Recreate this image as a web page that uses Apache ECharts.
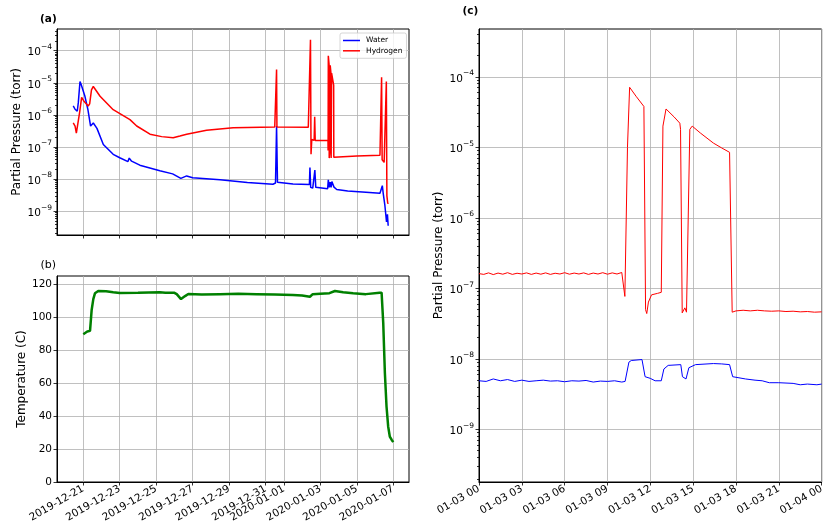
<!DOCTYPE html>
<html><head><meta charset="utf-8">
<script src="https://cdn.jsdelivr.net/npm/echarts@6/dist/echarts.min.js"></script>
<style>html,body{margin:0;padding:0;background:#fff}#chart{width:827px;height:529px}</style>
</head><body><div id="chart"></div>
<script>
// ---------------- DATA ----------------
// Panel (a): partial pressures over the whole bake-out (torr)
const waterTimesA = ['2019-12-20 10:48','2019-12-20 13:12','2019-12-20 16:05','2019-12-20 17:31','2019-12-20 19:41','2019-12-20 21:07','2019-12-21 02:10','2019-12-21 06:00','2019-12-21 09:36','2019-12-21 13:12','2019-12-21 18:00','2019-12-22 02:24','2019-12-22 15:22','2019-12-23 00:00','2019-12-23 10:48','2019-12-23 12:29','2019-12-23 15:36','2019-12-24 02:24','2019-12-25 04:48','2019-12-25 21:36','2019-12-26 08:24','2019-12-26 16:05','2019-12-27 00:00','2019-12-28 12:00','2019-12-30 00:00','2019-12-31 09:36','2019-12-31 13:00','2019-12-31 14:24','2019-12-31 15:36','2020-01-01 12:00','2020-01-02 09:36','2020-01-02 10:19','2020-01-02 11:17','2020-01-02 14:00','2020-01-02 16:48','2020-01-02 18:00','2020-01-03 09:36','2020-01-03 10:30','2020-01-03 11:30','2020-01-03 11:45','2020-01-03 13:00','2020-01-03 14:10','2020-01-03 14:30','2020-01-03 15:10','2020-01-03 17:33','2020-01-03 18:00','2020-01-03 21:36','2020-01-04 12:00','2020-01-05 12:00','2020-01-06 06:29','2020-01-06 09:36','2020-01-06 10:48','2020-01-06 12:58','2020-01-06 15:07','2020-01-06 16:19','2020-01-06 17:17'];
const waterValuesA = [1.9e-6,1.5e-6,1.3e-6,2.5e-6,1.1e-5,9e-6,3.8e-6,1.5e-6,4.5e-7,5.6e-7,3.8e-7,1.2e-7,5.9e-8,4.6e-8,3.5e-8,4.5e-8,3.6e-8,2.7e-8,1.8e-8,1.45e-8,1.05e-8,1.25e-8,1.1e-8,9.5e-9,7.8e-9,6.9e-9,7.5e-9,4.5e-7,8e-9,7e-9,6.8e-9,2.3e-8,5.5e-9,5.2e-9,1.9e-8,5.5e-9,5e-9,9.5e-9,9.8e-9,5.5e-9,8e-9,5.5e-9,5.3e-9,8.3e-9,8.3e-9,5.6e-9,4.7e-9,4.2e-9,3.9e-9,3.6e-9,6.2e-9,3.5e-9,1.5e-9,4.6e-10,8e-10,3.5e-10];

const hydrogenTimesA = ['2019-12-20 10:48','2019-12-20 13:12','2019-12-20 14:53','2019-12-20 16:05','2019-12-20 19:12','2019-12-20 21:50','2019-12-21 01:12','2019-12-21 06:29','2019-12-21 08:24','2019-12-21 10:48','2019-12-21 13:12','2019-12-21 22:05','2019-12-22 15:22','2019-12-23 13:26','2019-12-23 22:19','2019-12-24 15:50','2019-12-25 07:12','2019-12-25 22:19','2019-12-26 07:12','2019-12-26 16:05','2019-12-27 18:14','2019-12-29 05:17','2019-12-31 12:00','2019-12-31 13:55','2019-12-31 14:24','2019-12-31 14:53','2020-01-02 08:10','2020-01-02 10:34','2020-01-02 11:02','2020-01-02 11:46','2020-01-02 12:43','2020-01-02 15:50','2020-01-02 16:34','2020-01-02 17:17','2020-01-03 10:05','2020-01-03 10:13','2020-01-03 10:30','2020-01-03 11:30','2020-01-03 11:42','2020-01-03 12:46','2020-01-03 13:00','2020-01-03 14:08','2020-01-03 14:15','2020-01-03 14:40','2020-01-03 14:50','2020-01-03 17:33','2020-01-03 17:44','2020-01-05 00:00','2020-01-06 06:29','2020-01-06 07:55','2020-01-06 08:38','2020-01-06 09:22','2020-01-06 12:00','2020-01-06 13:55','2020-01-06 14:53','2020-01-06 15:36','2020-01-06 16:48','2020-01-06 17:17'];
const hydrogenValuesA = [5.6e-7,4.5e-7,2.7e-7,2.5e-7,1.2e-6,3.5e-6,2.6e-6,1.9e-6,2.2e-6,6e-6,7.7e-6,3.8e-6,1.45e-6,7.1e-7,4.5e-7,2.5e-7,2.1e-7,1.95e-7,2.2e-7,2.5e-7,3.3e-7,4e-7,4.2e-7,4.2e-7,2.6e-5,4.2e-7,4.1e-7,4.1e-7,2.2e-4,5.9e-8,1.7e-7,1.6e-7,8.7e-7,1.6e-7,1.6e-7,7.7e-8,7e-5,3.8e-5,4.5e-8,8.8e-8,3.5e-5,1.8e-5,4.5e-8,5e-8,2e-5,8.5e-6,4.8e-8,5.2e-8,5.5e-8,5.5e-8,1.5e-5,4e-8,3.3e-8,3e-8,1.1e-5,3e-9,1.7e-9,1.8e-9];

// Panel (b): temperature (C)
const tempTimes = ['2019-12-21 00:00','2019-12-21 02:00','2019-12-21 05:17','2019-12-21 08:53','2019-12-21 10:00','2019-12-21 11:02','2019-12-21 13:12','2019-12-21 15:22','2019-12-21 19:41','2019-12-22 06:00','2019-12-22 15:22','2019-12-23 00:00','2019-12-24 00:00','2019-12-25 04:48','2019-12-25 12:00','2019-12-26 00:00','2019-12-26 03:00','2019-12-26 08:38','2019-12-26 14:00','2019-12-26 18:14','2019-12-27 12:00','2019-12-28 12:00','2019-12-29 12:00','2019-12-30 12:00','2019-12-31 12:00','2020-01-01 12:00','2020-01-02 00:00','2020-01-02 10:19','2020-01-02 14:00','2020-01-03 00:00','2020-01-03 12:00','2020-01-03 19:12','2020-01-04 06:00','2020-01-04 19:12','2020-01-05 12:00','2020-01-06 06:00','2020-01-06 08:38','2020-01-06 10:48','2020-01-06 12:58','2020-01-06 15:07','2020-01-06 17:17','2020-01-06 19:26','2020-01-06 22:00','2020-01-07 00:00'];
const tempValues = [89.7,90.5,91.3,91.7,92,104.4,111,114.5,115.9,115.8,115.2,114.7,114.8,115.1,114.9,114.8,114,111,112.8,114.1,113.8,114,114.2,114,113.8,113.5,113.2,112.4,114,114.3,114.6,115.9,115.1,114.5,114,114.8,114.9,96.4,66,45.8,33.7,27.6,25.5,24.2];

// Panel (c): zoom on 2020-01-03 (clock times of that day; 24:00 = next midnight)
const waterTimesC = ['00:00','00:30','01:00','01:30','02:00','02:30','03:00','03:30','04:00','04:30','05:00','05:30','06:00','06:30','07:00','07:30','08:00','08:30','09:00','09:30','10:00','10:14','10:30','10:40','11:25','11:38','12:00','12:20','12:46','12:57','13:15','14:08','14:15','14:30','14:42','15:10','16:25','17:00','17:33','17:46','18:40','19:20','19:50','20:20','21:00','22:00','22:30','23:00','23:40','24:00'];
const waterValuesC = [4.9e-9,4.8e-9,5.2e-9,4.9e-9,5.1e-9,4.8e-9,5.0e-9,4.8e-9,4.9e-9,5.0e-9,4.85e-9,4.9e-9,4.75e-9,4.9e-9,4.85e-9,4.95e-9,4.7e-9,4.85e-9,4.8e-9,4.9e-9,4.7e-9,4.8e-9,9e-9,9.5e-9,9.8e-9,5.6e-9,5.3e-9,4.9e-9,4.9e-9,7.2e-9,8.1e-9,8.3e-9,5.6e-9,5.2e-9,7.5e-9,8.3e-9,8.6e-9,8.5e-9,8.3e-9,5.6e-9,5.2e-9,5.0e-9,4.9e-9,4.6e-9,4.6e-9,4.5e-9,4.3e-9,4.4e-9,4.3e-9,4.4e-9];

const hydrogenTimesC = ['00:00','00:20','00:40','01:00','01:20','01:40','02:00','02:20','02:40','03:00','03:20','03:40','04:00','04:20','04:40','05:00','05:20','05:40','06:00','06:20','06:40','07:00','07:20','07:40','08:00','08:20','08:40','09:00','09:20','09:40','10:00','10:08','10:13','10:16','10:24','10:33','11:00','11:33','11:40','11:45','11:52','12:05','12:30','12:46','12:53','13:06','13:40','14:04','14:07','14:14','14:18','14:25','14:32','14:46','14:56','15:30','16:25','17:00','17:33','17:44','17:50','18:00','18:30','19:00','19:30','20:00','20:30','21:00','21:30','22:00','22:30','23:00','23:30','24:00'];
const hydrogenValuesC = [1.62e-7,1.58e-7,1.66e-7,1.57e-7,1.65e-7,1.59e-7,1.67e-7,1.58e-7,1.64e-7,1.6e-7,1.66e-7,1.58e-7,1.65e-7,1.59e-7,1.66e-7,1.58e-7,1.64e-7,1.6e-7,1.67e-7,1.59e-7,1.65e-7,1.6e-7,1.66e-7,1.58e-7,1.65e-7,1.6e-7,1.67e-7,1.59e-7,1.66e-7,1.6e-7,1.68e-7,1.62e-7,7.7e-8,8e-8,1e-5,7.1e-5,5.3e-5,3.8e-5,5e-8,4.4e-8,6.4e-8,8.1e-8,8.5e-8,8.8e-8,2e-5,3.5e-5,2.7e-5,2.2e-5,1.8e-5,4.5e-8,4.3e-8,5.3e-8,4.6e-8,1.8e-5,2e-5,1.6e-5,1.15e-5,9.8e-6,8.5e-6,4.6e-8,4.5e-8,4.8e-8,4.9e-8,4.8e-8,4.9e-8,4.8e-8,4.75e-8,4.8e-8,4.7e-8,4.75e-8,4.65e-8,4.7e-8,4.6e-8,4.65e-8];

// Ticks
const dateTicksAB = ['2019-12-21','2019-12-23','2019-12-25','2019-12-27','2019-12-29','2019-12-31','2020-01-01','2020-01-03','2020-01-05','2020-01-07'];
const hourTicksC = ['00:00','03:00','06:00','09:00','12:00','15:00','18:00','21:00','24:00'];
const logTickExps = [-9,-8,-7,-6,-5,-4];
const tempTicks = [0,20,40,60,80,100,120];

// ---------------- BUILD ----------------
const FONT = 'DejaVu Sans';
function toMs(s) {
  const [d, t] = s.split(' ');
  const [y, m, dd] = d.split('-').map(Number);
  let h = 0, mi = 0;
  if (t) { [h, mi] = t.split(':').map(Number); }
  return new Date(y, m - 1, dd, h, mi).getTime();
}
const dayC = toMs('2020-01-03');
function hmToMs(s) { const [h, m] = s.split(':').map(Number); return dayC + (h * 60 + m) * 60000; }
function pad(n) { return n < 10 ? '0' + n : '' + n; }

const logMin = -9.745, logMax = -3.322;
const minorTicks = [];
for (let e = -10; e <= -4; e++) for (let k = 2; k <= 9; k++) {
  const v = Math.log10(k) + e; if (v > logMin && v < logMax) minorTicks.push(v);
}
const logPairs = (ts, vs, conv) => ts.map((t, i) => [conv(t), Math.log10(vs[i])]);

const axisLineStyle = { show: true, onZero: false, lineStyle: { color: '#000', width: 1 } };
const gridLine = { show: true, lineStyle: { color: '#b0b0b0', width: 0.8 } };
const tickStyle = (vals, len) => ({ show: true, inside: false, length: len, customValues: vals, lineStyle: { color: '#000', width: 0.8 } });
const logLabel = {
  show: true, margin: 5, customValues: logTickExps,
  formatter: v => '{b|10}{s|\u2212' + Math.abs(Math.round(v)) + '}',
  rich: {
    b: { fontFamily: FONT, fontSize: 10.5, color: '#000', lineHeight: 15, verticalAlign: 'bottom' },
    s: { fontFamily: FONT, fontSize: 7.5, color: '#000', lineHeight: 9, verticalAlign: 'top' }
  }
};
const dateLabel = v => { const d = new Date(v); return d.getFullYear() + '-' + pad(d.getMonth() + 1) + '-' + pad(d.getDate()); };
const hourLabel = v => { const d = new Date(v); return pad(d.getMonth() + 1) + '-' + pad(d.getDate()) + ' ' + pad(d.getHours()); };

const abTicks = dateTicksAB.map(toMs);
const cTicks = hourTicksC.map(hmToMs);
const xMinAB = toMs('2019-12-19 13:25'), xMaxAB = toMs('2020-01-07 20:42');

const minorAxis = (grid) => ({ type: 'value', gridIndex: grid, position: 'left', min: logMin, max: logMax,
  axisLine: { show: false, onZero: false }, axisTick: tickStyle(minorTicks, 2), axisLabel: { show: false }, splitLine: { show: false } });

const titleStyle = (bold, size) => ({ fontFamily: FONT, fontSize: size, fontWeight: bold ? 'bold' : 'normal', color: '#000' });
const option = {
  animation: false,
  backgroundColor: '#fff',
  textStyle: { fontFamily: FONT },
  title: [
    { text: '(a)', left: 40, top: 14, padding: 0, textStyle: titleStyle(true, 10.5) },
    { text: '(b)', left: 40.5, top: 259.5, padding: 0, textStyle: titleStyle(false, 11) },
    { text: '(c)', left: 462.5, top: 6, padding: 0, textStyle: titleStyle(true, 10.5) }
  ],
  legend: {
    data: ['Water', 'Hydrogen'], orient: 'vertical', left: 340, top: 33, icon: 'rect',
    padding: [3, 4, 3, 3], itemGap: 1.3, itemWidth: 17, itemHeight: 1.5,
    borderColor: '#cccccc', borderWidth: 0.8, borderRadius: 2, backgroundColor: 'rgba(255,255,255,0.8)',
    textStyle: { fontFamily: FONT, fontSize: 7.5, color: '#000', lineHeight: 9, padding: [0, 0, 0, 1] }
  },
  grid: [
    { left: 57, top: 29, width: 352, height: 206, show: true, borderColor: '#000', borderWidth: 1, backgroundColor: '#fff' },
    { left: 57, top: 276, width: 352, height: 206, show: true, borderColor: '#000', borderWidth: 1, backgroundColor: '#fff' },
    { left: 479, top: 29, right: -4, height: 453, show: true, borderColor: '#000', borderWidth: 1, backgroundColor: '#fff' }
  ],
  xAxis: [
    { type: 'value', gridIndex: 0, min: xMinAB, max: xMaxAB, axisLine: axisLineStyle, axisTick: tickStyle(abTicks, 3.5), axisLabel: { show: false, customValues: abTicks }, splitLine: gridLine },
    { type: 'value', gridIndex: 1, min: xMinAB, max: xMaxAB, axisLine: axisLineStyle, axisTick: tickStyle(abTicks, 3.5),
      axisLabel: { show: true, customValues: abTicks, rotate: 30, margin: 6, formatter: dateLabel, fontFamily: FONT, fontSize: 10.5, color: '#000' }, splitLine: gridLine },
    { type: 'value', gridIndex: 2, min: cTicks[0], max: cTicks[cTicks.length - 1], axisLine: axisLineStyle, axisTick: tickStyle(cTicks, 3.5),
      axisLabel: { show: true, customValues: cTicks, rotate: 30, margin: 6, formatter: hourLabel, fontFamily: FONT, fontSize: 10.5, color: '#000' }, splitLine: gridLine }
  ],
  yAxis: [
    { type: 'value', gridIndex: 0, position: 'left', min: logMin, max: logMax, axisLine: axisLineStyle, axisTick: tickStyle(logTickExps, 3.5), axisLabel: logLabel, splitLine: gridLine,
      name: 'Partial Pressure (torr)', nameLocation: 'middle', nameGap: 34, nameTextStyle: { fontFamily: FONT, fontSize: 12, color: '#000' } },
    minorAxis(0),
    { type: 'value', gridIndex: 1, position: 'left', min: 0, max: 125, axisLine: axisLineStyle, axisTick: tickStyle(tempTicks, 3.5),
      axisLabel: { show: true, customValues: tempTicks, margin: 5, fontFamily: FONT, fontSize: 10.5, color: '#000' }, splitLine: gridLine,
      name: 'Temperature (C)', nameLocation: 'middle', nameGap: 29, nameTextStyle: { fontFamily: FONT, fontSize: 12, color: '#000' } },
    { type: 'value', gridIndex: 2, position: 'left', min: logMin, max: logMax, axisLine: axisLineStyle, axisTick: tickStyle(logTickExps, 3.5), axisLabel: logLabel, splitLine: gridLine,
      name: 'Partial Pressure (torr)', nameLocation: 'middle', nameGap: 34, nameTextStyle: { fontFamily: FONT, fontSize: 12, color: '#000' } },
    minorAxis(2)
  ],
  series: [
    { name: 'Water', type: 'line', xAxisIndex: 0, yAxisIndex: 0, symbol: 'none', color: '#0000ff', lineStyle: { width: 1.5, color: '#0000ff' }, data: logPairs(waterTimesA, waterValuesA, toMs) },
    { name: 'Hydrogen', type: 'line', xAxisIndex: 0, yAxisIndex: 0, symbol: 'none', color: '#ff0000', lineStyle: { width: 1.5, color: '#ff0000' }, data: logPairs(hydrogenTimesA, hydrogenValuesA, toMs) },
    { name: 'Temperature', type: 'line', xAxisIndex: 1, yAxisIndex: 2, symbol: 'none', color: '#008000', lineStyle: { width: 2.5, color: '#008000' }, data: tempTimes.map((t, i) => [toMs(t), tempValues[i]]) },
    { name: 'Water (c)', type: 'line', xAxisIndex: 2, yAxisIndex: 3, symbol: 'none', color: '#0000ff', lineStyle: { width: 1, color: '#0000ff' }, data: logPairs(waterTimesC, waterValuesC, hmToMs) },
    { name: 'Hydrogen (c)', type: 'line', xAxisIndex: 2, yAxisIndex: 3, symbol: 'none', color: '#ff0000', lineStyle: { width: 1, color: '#ff0000' }, data: logPairs(hydrogenTimesC, hydrogenValuesC, hmToMs) }
  ]
};
const chart = echarts.init(document.getElementById('chart'), null, { renderer: 'canvas' });
chart.setOption(option);
</script></body></html>
